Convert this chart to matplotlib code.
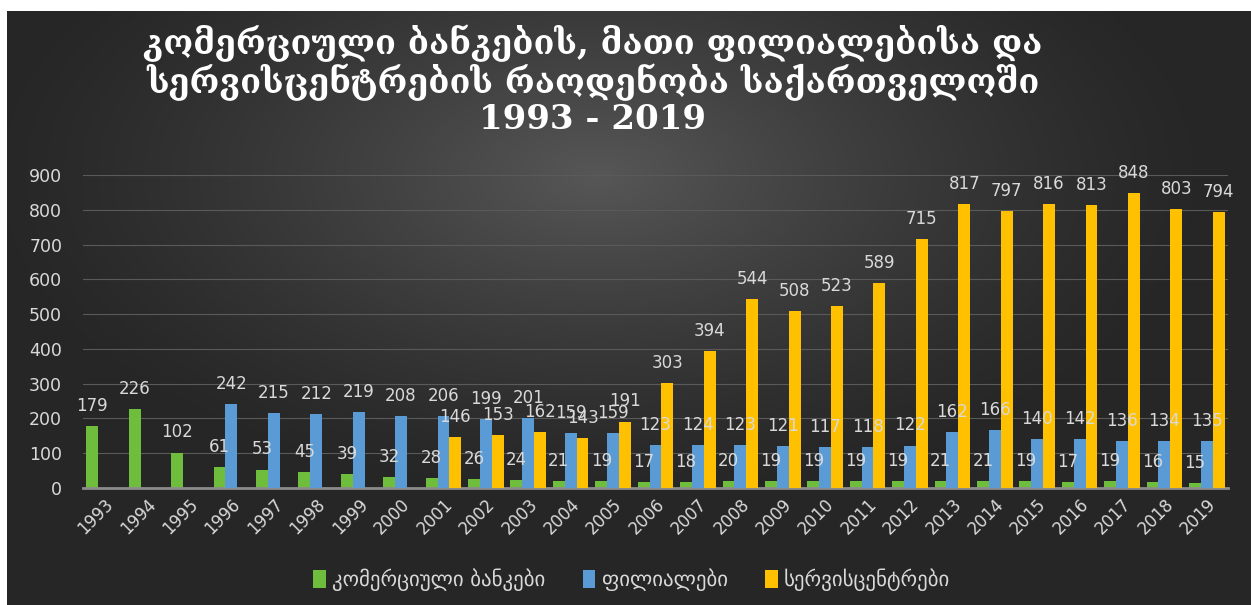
import numpy as np
import matplotlib
matplotlib.use("Agg")
import matplotlib.pyplot as plt

years = list(range(1993, 2020))
banks = [179, 226, 102, 61, 53, 45, 39, 32, 28, 26, 24, 21, 19, 17, 18, 20, 19, 19,
         19, 19, 21, 21, 19, 17, 19, 16, 15]
branches = [None, None, None, 242, 215, 212, 219, 208, 206, 199, 201, 159, 159, 123,
            124, 123, 121, 117, 118, 122, 162, 166, 140, 142, 136, 134, 135]
service = [None] * 8 + [146, 153, 162, 143, 191, 303, 394, 544, 508, 523, 589, 715,
                        817, 797, 816, 813, 848, 803, 794]

series_names = ["კომერციული ბანკები", "ფილიალები", "სერვისცენტრები"]
colors = ["#6fbd3c", "#5b9bd5", "#ffc000"]
title = "კომერციული ბანკების, მათი ფილიალებისა და\nსერვისცენტრების რაოდენობა საქართველოში\n1993 - 2019"

W, H = 1251, 605
fig = plt.figure(figsize=(W / 100, H / 100), dpi=100)
fig.patch.set_facecolor("white")

# dark radial background, with the white strip at top/left like the screenshot
bg = fig.add_axes([7 / W, 0, 1 - 7 / W, 1 - 11 / H])
gx, gy = np.meshgrid(np.linspace(-1, 1, 400), np.linspace(-1, 1, 200))
r = np.sqrt(((gx + 0.05) / 1.0) ** 2 + ((gy + 0.45) / 1.1) ** 2)
shade = np.clip(1 - r, 0, 1) ** 1.3
c0, c1 = np.array([0.15, 0.15, 0.15]), np.array([0.34, 0.34, 0.34])
img = c0 + (c1 - c0) * shade[..., None]
bg.imshow(img, aspect="auto", extent=[0, 1, 0, 1], origin="upper")
bg.set_axis_off()

ax = fig.add_axes([83 / W, (H - 488) / H, (1228 - 83) / W, (488 - 175) / H])
ax.set_facecolor("none")

x = np.arange(len(years))
bw = 0.28
txt = "#d9d9d9"
for k, (vals, name, col) in enumerate(zip([banks, branches, service], series_names, colors)):
    xs = [xi + (k - 1) * bw for xi, v in zip(x, vals) if v is not None]
    vs = [v for v in vals if v is not None]
    ax.bar(xs, vs, width=bw, color=col, label=name, zorder=2 + k)
    for xi, v in zip(xs, vs):
        ax.annotate(str(v), (xi, v), xytext=(0, 8), textcoords="offset points",
                    ha="center", va="bottom", color=txt, fontsize=12, zorder=6)

ax.set_ylim(0, 900)
ax.set_xlim(-0.5, len(years) - 0.5)
ax.set_yticks(range(0, 901, 100))
ax.yaxis.grid(True, color="#5a5a5a", linewidth=0.8, zorder=0)
ax.set_axisbelow(True)
for s in ["top", "right", "left"]:
    ax.spines[s].set_visible(False)
ax.spines["bottom"].set_color("#8c8c8c")
ax.spines["bottom"].set_linewidth(2)
ax.tick_params(axis="y", length=0, colors=txt, labelsize=12.5, pad=15)
ax.tick_params(axis="x", length=0, colors=txt, labelsize=12, pad=5)
ax.set_xticks(x)
ax.set_xticklabels([str(y) for y in years], rotation=45, ha="right", rotation_mode="anchor")

fig.text(0.474, 1 - 24 / H, title, ha="center", va="top", color="white",
         fontsize=24.5, fontweight="bold", family=["DejaVu Serif", "DejaVu Sans"],
         linespacing=1.07)

leg = fig.legend(loc="center", bbox_to_anchor=(0.505, 1 - 580 / H), ncol=3, frameon=False,
                 fontsize=15, handlelength=0.6, handleheight=0.9, handletextpad=0.3,
                 columnspacing=1.8)
for t in leg.get_texts():
    t.set_color(txt)

fig.savefig("out.png", dpi=100)
